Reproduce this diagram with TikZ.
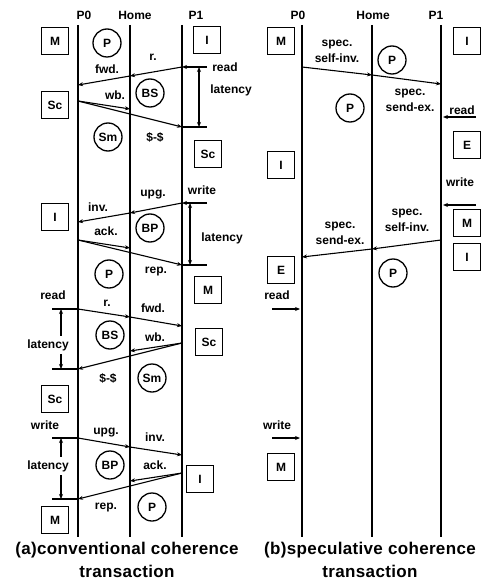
\documentclass[tikz,border=0pt]{standalone}
\usepackage{fontspec}
\setmainfont{Liberation Sans}
\newfontfamily\capfont[LetterSpace=2]{Liberation Sans}
\usepackage{tikz}
\usetikzlibrary{arrows.meta}

\begin{document}
\begin{tikzpicture}[
    x=1pt, y=-1pt,
    stateBox/.style={
        rectangle, draw, line width=1.4pt,
        minimum size=27pt, inner sep=0pt,
        font=\fontsize{12}{14}\selectfont\bfseries
    },
    phaseCircle/.style={
        circle, draw, line width=1.3pt,
        minimum size=28pt, inner sep=0pt,
        font=\fontsize{12}{14}\selectfont\bfseries
    },
    procLabel/.style={
        font=\fontsize{12}{14}\selectfont\bfseries, inner sep=0pt
    },
    msgLabel/.style={
        font=\fontsize{12}{16}\selectfont\bfseries, align=center, inner sep=0pt
    },
    latLabel/.style={
        msgLabel, fill=white, inner ysep=3pt
    },
    capText/.style={
        font=\capfont\fontsize{17}{23}\selectfont\bfseries, align=center, inner sep=0pt
    },
    lifeLine/.style={line width=1.8pt},
    tickLine/.style={line width=1.1pt},
    msgArrow/.style={
        -{Stealth[length=5pt, width=4pt]}, line width=1.1pt
    },
    latArrow/.style={
        {Stealth[length=5pt, width=4pt]}-{Stealth[length=5pt, width=4pt]}, line width=1.1pt
    }
]
    \useasboundingbox (0,0) rectangle (481,585);

    % Lifelines (a)
    \coordinate (aP0t) at (78,25);   \coordinate (aP0b) at (78,537);
    \coordinate (aHt)  at (130,25);  \coordinate (aHb)  at (130,537);
    \coordinate (aP1t) at (182,25);  \coordinate (aP1b) at (182,537);
    \draw[lifeLine] (aP0t) -- (aP0b);
    \draw[lifeLine] (aHt) -- (aHb);
    \draw[lifeLine] (aP1t) -- (aP1b);
    \node[procLabel] (aP0) at (84,15) {P0};
    \node[procLabel] (aH) at (135,15) {Home};
    \node[procLabel] (aP1) at (196,15) {P1};

    % Lifelines (b)
    \coordinate (bP0t) at (302,25);  \coordinate (bP0b) at (302,537);
    \coordinate (bHt)  at (372,25);  \coordinate (bHb)  at (372,537);
    \coordinate (bP1t) at (441,25);  \coordinate (bP1b) at (441,537);
    \draw[lifeLine] (bP0t) -- (bP0b);
    \draw[lifeLine] (bHt) -- (bHb);
    \draw[lifeLine] (bP1t) -- (bP1b);
    \node[procLabel] (bP0) at (298,15) {P0};
    \node[procLabel] (bH) at (373,15) {Home};
    \node[procLabel] (bP1) at (436,15) {P1};

    % States (a)
    \node[stateBox] (aS1) at (55,41) {M};
    \node[stateBox] (aS2) at (55,105) {Sc};
    \node[stateBox] (aS3) at (55,217) {I};
    \node[stateBox] (aS4) at (55,399) {Sc};
    \node[stateBox] (aS5) at (55,520) {M};
    \node[stateBox] (aR1) at (207,40) {I};
    \node[stateBox] (aR2) at (208,154) {Sc};
    \node[stateBox] (aR3) at (208,290) {M};
    \node[stateBox] (aR4) at (209,342) {Sc};
    \node[stateBox] (aR5) at (200,479) {I};

    % Home states (a)
    \node[phaseCircle] (aC1) at (107,43) {P};
    \node[phaseCircle] (aC2) at (150,93) {BS};
    \node[phaseCircle] (aC3) at (108,137) {Sm};
    \node[phaseCircle] (aC4) at (150,228) {BP};
    \node[phaseCircle] (aC5) at (109,274) {P};
    \node[phaseCircle] (aC6) at (110,335) {BS};
    \node[phaseCircle] (aC7) at (152,378) {Sm};
    \node[phaseCircle] (aC8) at (110,465) {BP};
    \node[phaseCircle] (aC9) at (152,507) {P};

    % Read miss at P1
    \coordinate (r1s) at (207,67);
    \coordinate (r1a) at (182,67);
    \coordinate (r1b) at (130,76);
    \coordinate (r1c) at (78,85);
    \coordinate (r1d) at (78,101);
    \coordinate (r1e) at (130,109);
    \coordinate (r1f) at (182,127);
    \coordinate (r1g) at (207,127);
    \coordinate (r1u) at (199,67);
    \coordinate (r1v) at (199,127);
    \draw[msgArrow] (r1s) -- (r1a);
    \draw[msgArrow] (r1a) -- (r1b);
    \draw[msgArrow] (r1b) -- (r1c);
    \draw[msgArrow] (r1d) -- (r1e);
    \draw[msgArrow] (r1d) -- (r1f);
    \draw[tickLine] (r1f) -- (r1g);
    \draw[latArrow] (r1u) -- (r1v);
    \node[msgLabel] (r1l1) at (225,67) {read};
    \node[msgLabel] (r1l2) at (153,57) {r.};
    \node[msgLabel] (r1l3) at (107,69) {fwd.};
    \node[msgLabel] (r1l4) at (115,95) {wb.};
    \node[msgLabel] (r1l5) at (155,137) {\$-\$};
    \node[msgLabel] (r1l6) at (231,90) {latency};

    % Write miss at P1
    \coordinate (w1s) at (207,203);
    \coordinate (w1a) at (182,203);
    \coordinate (w1b) at (130,213);
    \coordinate (w1c) at (78,222);
    \coordinate (w1d) at (78,240);
    \coordinate (w1e) at (130,248);
    \coordinate (w1f) at (182,265);
    \coordinate (w1g) at (207,265);
    \coordinate (w1u) at (190,203);
    \coordinate (w1v) at (190,265);
    \draw[msgArrow] (w1s) -- (w1a);
    \draw[msgArrow] (w1a) -- (w1b);
    \draw[msgArrow] (w1b) -- (w1c);
    \draw[msgArrow] (w1d) -- (w1e);
    \draw[msgArrow] (w1d) -- (w1f);
    \draw[tickLine] (w1f) -- (w1g);
    \draw[latArrow] (w1u) -- (w1v);
    \node[msgLabel] (w1l1) at (202,190) {write};
    \node[msgLabel] (w1l2) at (153,195) {upg.};
    \node[msgLabel] (w1l3) at (98,207) {inv.};
    \node[msgLabel] (w1l4) at (106,231) {ack.};
    \node[msgLabel] (w1l5) at (156,272) {rep.};
    \node[msgLabel] (w1l6) at (222,238) {latency};

    % Read miss at P0
    \coordinate (r2s) at (52,309);
    \coordinate (r2a) at (78,309);
    \coordinate (r2b) at (130,317);
    \coordinate (r2c) at (182,326);
    \coordinate (r2d) at (182,343);
    \coordinate (r2e) at (130,351);
    \coordinate (r2f) at (78,369);
    \coordinate (r2g) at (52,369);
    \coordinate (r2u) at (61,309);
    \coordinate (r2v) at (61,369);
    \draw[tickLine] (r2s) -- (r2a);
    \draw[msgArrow] (r2a) -- (r2b);
    \draw[msgArrow] (r2b) -- (r2c);
    \draw[msgArrow] (r2d) -- (r2e);
    \draw[msgArrow] (r2d) -- (r2f);
    \draw[tickLine] (r2f) -- (r2g);
    \draw[latArrow] (r2u) -- (r2v);
    \node[msgLabel] (r2l1) at (53,295) {read};
    \node[msgLabel] (r2l2) at (107,303) {r.};
    \node[msgLabel] (r2l3) at (153,308) {fwd.};
    \node[msgLabel] (r2l4) at (155,337) {wb.};
    \node[msgLabel] (r2l5) at (108,378) {\$-\$};
    \node[latLabel] (r2l6) at (48,345) {latency};

    % Write miss at P0
    \coordinate (w2s) at (52,438);
    \coordinate (w2a) at (78,438);
    \coordinate (w2b) at (130,447);
    \coordinate (w2c) at (182,455);
    \coordinate (w2d) at (182,473);
    \coordinate (w2e) at (130,481);
    \coordinate (w2f) at (78,499);
    \coordinate (w2g) at (52,499);
    \coordinate (w2u) at (61,438);
    \coordinate (w2v) at (61,499);
    \draw[tickLine] (w2s) -- (w2a);
    \draw[msgArrow] (w2a) -- (w2b);
    \draw[msgArrow] (w2b) -- (w2c);
    \draw[msgArrow] (w2d) -- (w2e);
    \draw[msgArrow] (w2d) -- (w2f);
    \draw[tickLine] (w2f) -- (w2g);
    \draw[latArrow] (w2u) -- (w2v);
    \node[msgLabel] (w2l1) at (45,425) {write};
    \node[msgLabel] (w2l2) at (106,433) {upg.};
    \node[msgLabel] (w2l3) at (155,437) {inv.};
    \node[msgLabel] (w2l4) at (155,465) {ack.};
    \node[msgLabel] (w2l5) at (106,508) {rep.};
    \node[latLabel] (w2l6) at (48,466) {latency};

    % States (b)
    \node[stateBox] (bS1) at (281,41) {M};
    \node[stateBox] (bS2) at (281,165) {I};
    \node[stateBox] (bS3) at (281,270) {E};
    \node[stateBox] (bS4) at (281,467) {M};
    \node[stateBox] (bR1) at (467,41) {I};
    \node[stateBox] (bR2) at (467,145) {E};
    \node[stateBox] (bR3) at (467,223) {M};
    \node[stateBox] (bR4) at (467,257) {I};

    % Home states (b)
    \node[phaseCircle] (bC1) at (392,60) {P};
    \node[phaseCircle] (bC2) at (350,108) {P};
    \node[phaseCircle] (bC3) at (393,273) {P};

    % Speculative transfer P0 -> P1
    \coordinate (s1a) at (302,67);
    \coordinate (s1b) at (372,75);
    \coordinate (s1c) at (441,84);
    \draw[msgArrow] (s1a) -- (s1b);
    \draw[msgArrow] (s1b) -- (s1c);
    \node[msgLabel] (s1l1) at (337,51) {spec.\\self-inv.};
    \node[msgLabel] (s1l2) at (410,100) {spec.\\send-ex.};

    % Local read and write at P1
    \coordinate (b1s) at (476,117);
    \coordinate (b1a) at (443,117);
    \coordinate (b2s) at (476,205);
    \coordinate (b2a) at (443,205);
    \draw[msgArrow] (b1s) -- (b1a);
    \draw[msgArrow] (b2s) -- (b2a);
    \node[msgLabel] (b1l) at (462,110) {read};
    \node[msgLabel] (b2l) at (460,182) {write};

    % Speculative transfer P1 -> P0
    \coordinate (s2a) at (441,240);
    \coordinate (s2b) at (372,249);
    \coordinate (s2c) at (302,257);
    \draw[msgArrow] (s2a) -- (s2b);
    \draw[msgArrow] (s2b) -- (s2c);
    \node[msgLabel] (s2l1) at (407,220) {spec.\\self-inv.};
    \node[msgLabel] (s2l2) at (340,233) {spec.\\send-ex.};

    % Local read and write at P0
    \coordinate (b3s) at (272,309);
    \coordinate (b3a) at (300,309);
    \coordinate (b4s) at (272,438);
    \coordinate (b4a) at (300,438);
    \draw[msgArrow] (b3s) -- (b3a);
    \draw[msgArrow] (b4s) -- (b4a);
    \node[msgLabel] (b3l) at (277,295) {read};
    \node[msgLabel] (b4l) at (277,425) {write};

    % Captions
    \node[capText] (capA) at (127,560) {(a)conventional coherence\\transaction};
    \node[capText] (capB) at (370,560) {(b)speculative coherence\\transaction};

\end{tikzpicture}
\end{document}
